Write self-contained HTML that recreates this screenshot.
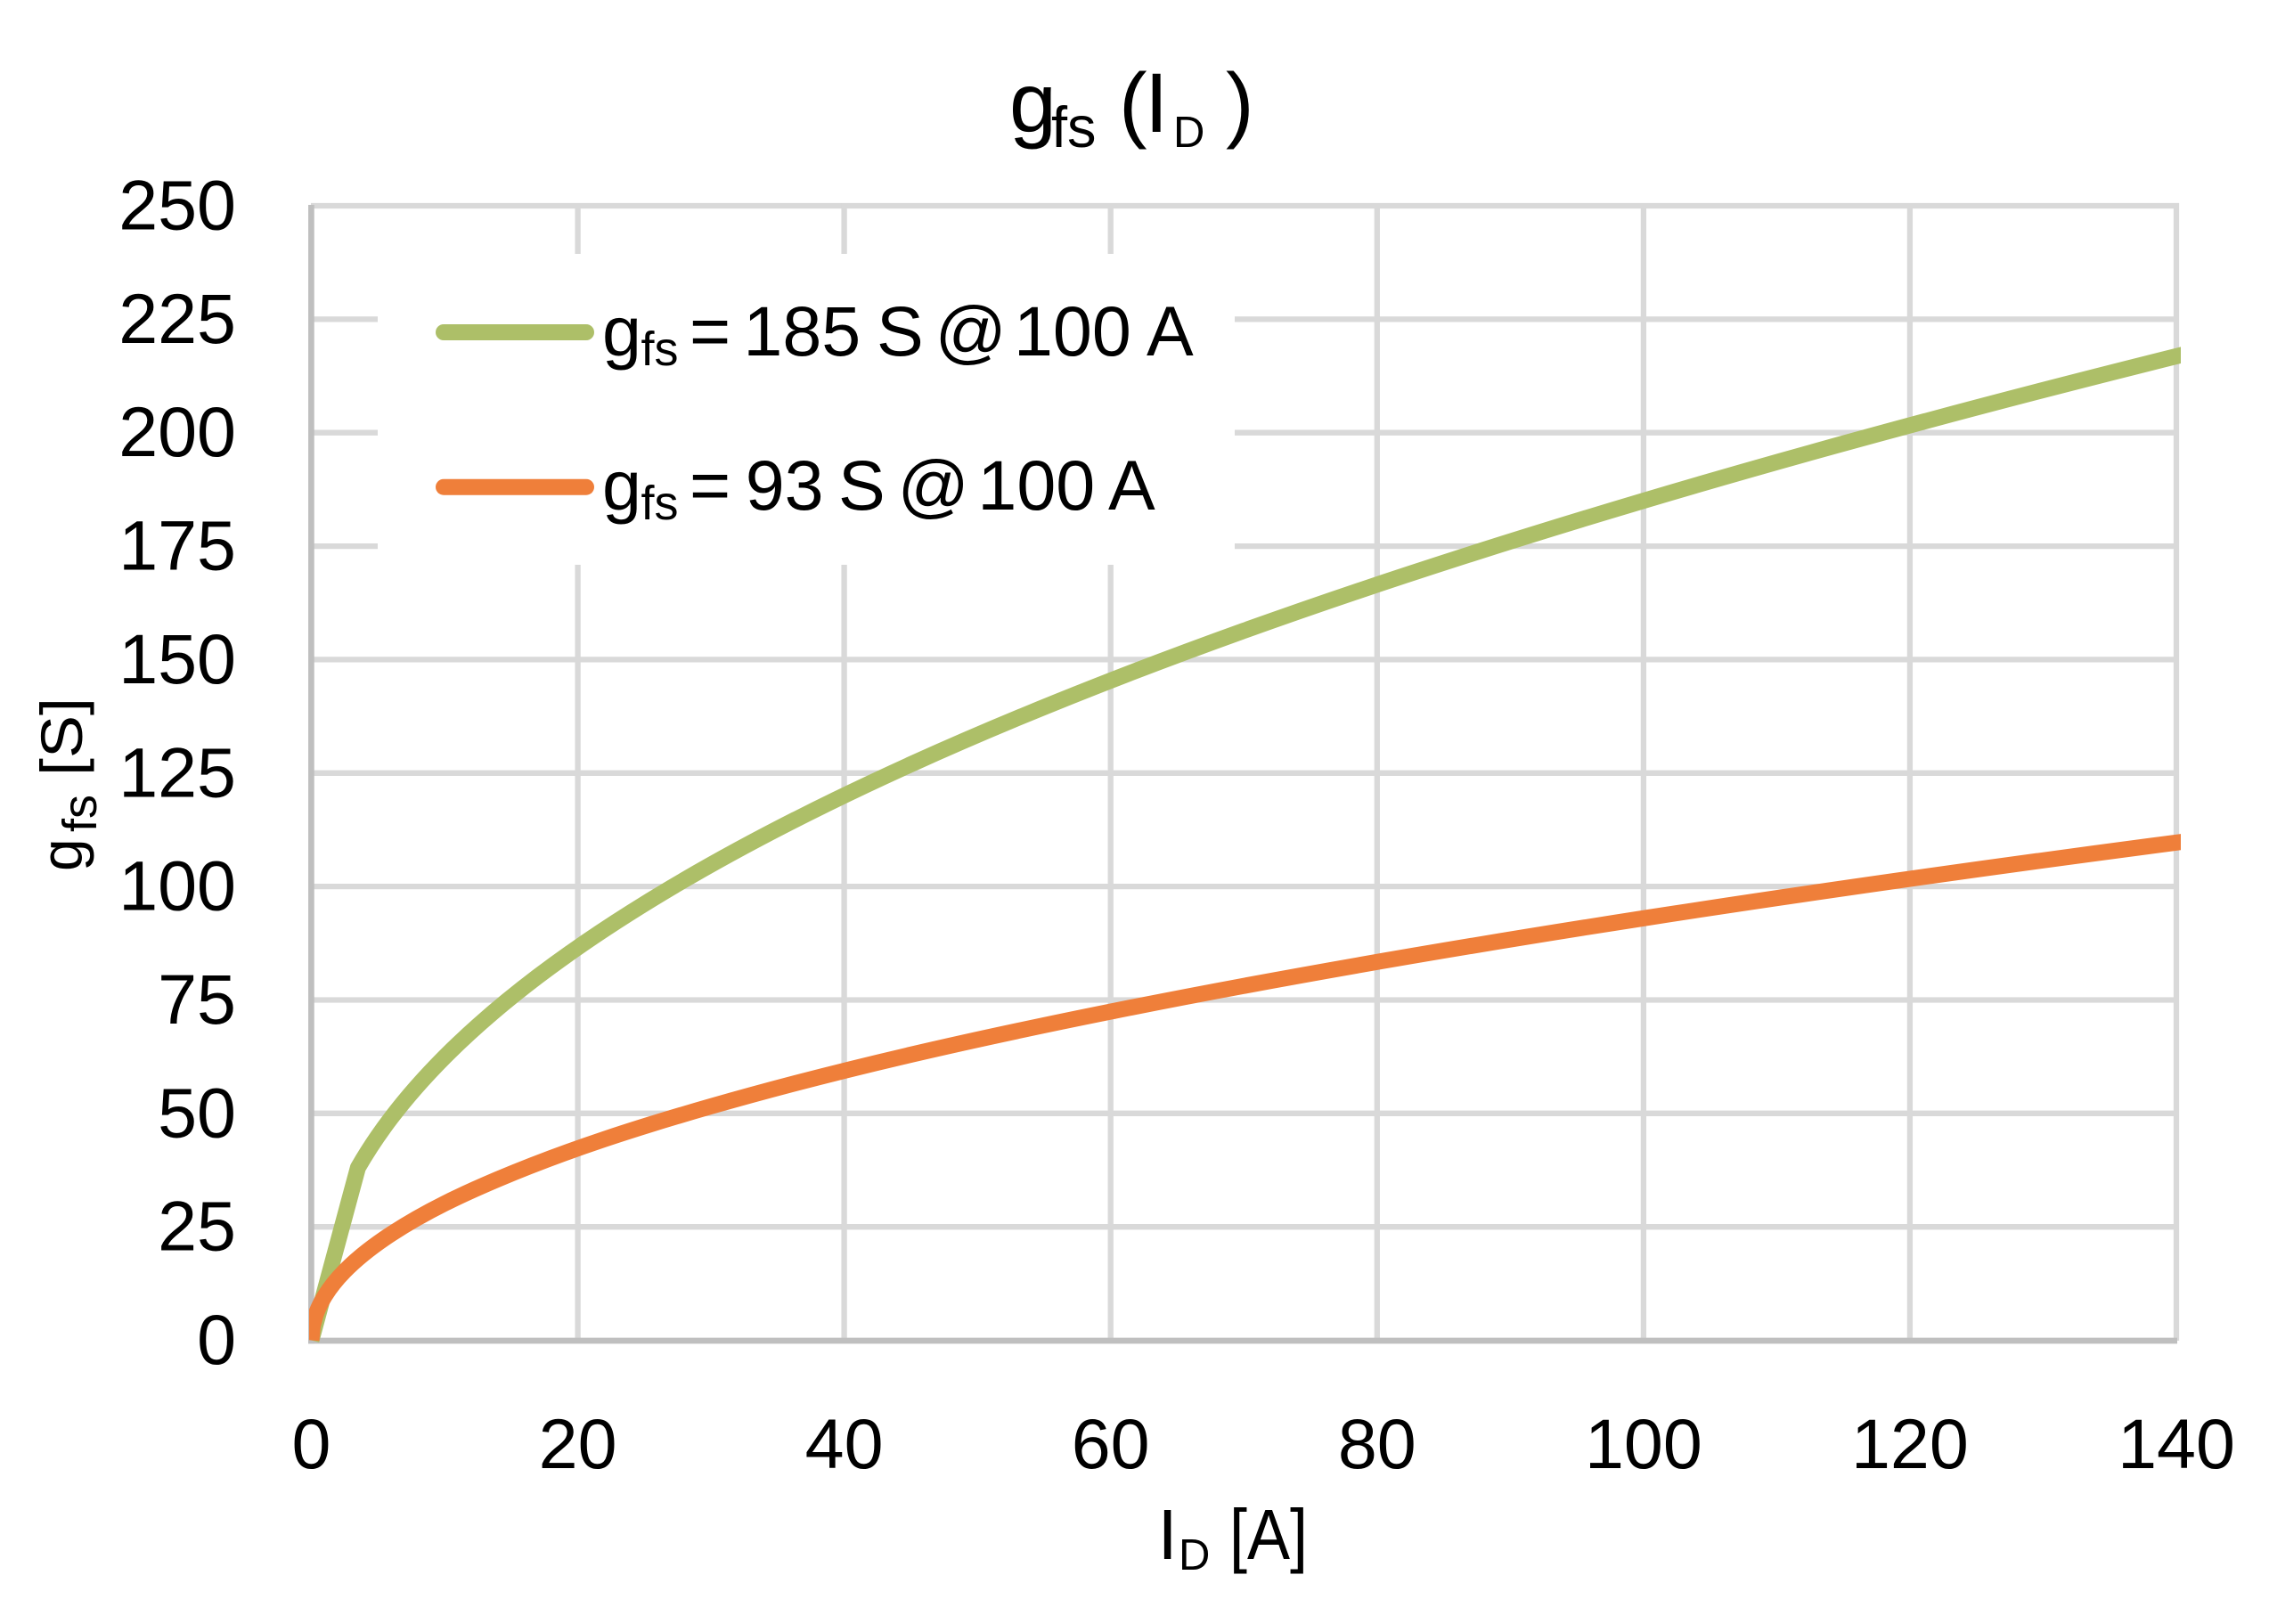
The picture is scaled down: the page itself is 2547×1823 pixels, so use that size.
<!DOCTYPE html>
<html>
<head>
<meta charset="utf-8">
<style>
  html, body { margin: 0; padding: 0; background: #ffffff; }
  svg { display: block; }
  text { font-family: "Liberation Sans", Arial, sans-serif; fill: #000000; }
</style>
</head>
<body>
<svg width="2547" height="1823" viewBox="0 0 2547 1823" xmlns="http://www.w3.org/2000/svg">
  <rect x="0" y="0" width="2547" height="1823" fill="#ffffff"/>

  <!-- Gridlines -->
  <g stroke="#D9D9D9" stroke-width="6.3" fill="none">
    <path d="M349 231H2446 M349 358.4H2446 M349 485.7H2446 M349 613.1H2446 M349 740.4H2446 M349 867.8H2446 M349 995.1H2446 M349 1122.5H2446 M349 1249.8H2446 M349 1377.2H2446"/>
    <path d="M648.6 228V1505 M947.6 228V1505 M1246.7 228V1505 M1545.8 228V1505 M1844.9 228V1505 M2143.9 228V1505 M2443 228V1505"/>
  </g>

  <!-- Legend background -->
  <rect x="424" y="285" width="962" height="349" fill="#ffffff"/>

  <!-- Axes -->
  <g stroke="#BFBFBF" stroke-width="6.7" fill="none">
    <path d="M349.4 230V1508.3"/>
    <path d="M346 1505H2444"/>
  </g>

  <defs>
    <clipPath id="plot">
      <rect x="347" y="220" width="2101" height="1288.5"/>
    </clipPath>
  </defs>

  <!-- Series -->
  <g clip-path="url(#plot)" fill="none" stroke-width="18" stroke-linejoin="round" stroke-linecap="butt">
    <path stroke="#ADBF68" d="M349.5,1504.5 L401.8,1310.8
      C414.3,1289.0 426.7,1271.1 439.2,1254.7
      C459.1,1228.5 479.1,1206.6 499.0,1186.6
      C533.9,1151.6 568.8,1122.6 603.7,1096.1
      C653.6,1058.3 703.5,1026.1 753.3,996.5
      C843.0,943.2 932.7,898.7 1022.4,858.0
      C1147.0,801.5 1271.7,752.8 1396.3,708.0
      C1545.8,654.3 1695.4,606.6 1844.9,562.1
      C2044.3,502.8 2243.7,449.6 2443.1,399.9
      L2460,395.7"/>
    <path stroke="#EF7F3A" d="M349.5,1504.5 L351.0,1488.5 L354.0,1477.0
      C357.5,1466.5 361.0,1460.6 364.5,1454.9
      C372.0,1442.7 379.4,1434.4 386.9,1426.8
      C404.4,1409.0 421.8,1396.5 439.2,1385.1
      C479.1,1359.1 519.0,1340.6 558.9,1323.7
      C638.7,1290.0 718.4,1264.8 798.1,1241.9
      C947.6,1199.0 1097.2,1165.7 1246.7,1135.6
      C1446.1,1095.4 1645.5,1061.8 1844.9,1030.8
      C2044.3,999.9 2243.7,971.9 2443.1,945.8
      L2460,943.6"/>
  </g>

  <!-- Legend lines -->
  <path d="M498 373H658" stroke="#ADBF68" stroke-width="18" stroke-linecap="round" fill="none"/>
  <path d="M498 546.7H658" stroke="#EF7F3A" stroke-width="18" stroke-linecap="round" fill="none"/>

  <!-- Legend text line 1 -->
  <text x="676" y="399" font-size="79">g</text>
  <text x="719.5" y="410" font-size="54">fs</text>
  <text x="774" y="399" font-size="79">=</text>
  <text x="834.4" y="399" font-size="79">185</text>
  <text x="984" y="399" font-size="79">S</text>
  <text x="1049.6" y="399" font-size="79">@</text>
  <text x="1138" y="399" font-size="79">100</text>
  <text x="1287" y="399" font-size="79">A</text>

  <!-- Legend text line 2 -->
  <text x="676" y="572" font-size="79">g</text>
  <text x="719.5" y="583" font-size="54">fs</text>
  <text x="774" y="572" font-size="79">=</text>
  <text x="836.7" y="572" font-size="79">93</text>
  <text x="941" y="572" font-size="79">S</text>
  <text x="1007.6" y="572" font-size="79">@</text>
  <text x="1097.4" y="572" font-size="79">100</text>
  <text x="1244" y="572" font-size="79">A</text>

  <!-- Y tick labels -->
  <g font-size="79" text-anchor="end">
    <text x="265" y="257.5">250</text>
    <text x="265" y="384.9">225</text>
    <text x="265" y="512.2">200</text>
    <text x="265" y="639.6">175</text>
    <text x="265" y="766.9">150</text>
    <text x="265" y="894.3">125</text>
    <text x="265" y="1021.6">100</text>
    <text x="265" y="1149">75</text>
    <text x="265" y="1276.3">50</text>
    <text x="265" y="1403.7">25</text>
    <text x="265" y="1531">0</text>
  </g>

  <!-- X tick labels -->
  <g font-size="79" text-anchor="middle">
    <text x="349.5" y="1648">0</text>
    <text x="648.6" y="1648">20</text>
    <text x="947.6" y="1648">40</text>
    <text x="1246.7" y="1648">60</text>
    <text x="1545.8" y="1648">80</text>
    <text x="1844.9" y="1648">100</text>
    <text x="2143.9" y="1648">120</text>
    <text x="2443" y="1648">140</text>
  </g>

  <!-- Title -->
  <text x="1133" y="148" font-size="95">g</text>
  <text x="1180" y="165" font-size="65">fs</text>
  <text x="1256" y="148" font-size="95">(</text>
  <text x="1285" y="148" font-size="95">I</text>
  <text x="1317" y="165" font-size="49">D</text>
  <text x="1376" y="148" font-size="95">)</text>

  <!-- X axis title -->
  <text x="1299.5" y="1750" font-size="80">I</text>
  <text x="1323" y="1762" font-size="49">D</text>
  <text x="1380" y="1750" font-size="80" textLength="88" lengthAdjust="spacingAndGlyphs">[A]</text>

  <!-- Y axis title -->
  <g transform="translate(92,978) rotate(-90)">
    <text x="0" y="0" font-size="66">g</text>
    <text x="44" y="16" font-size="54">fs</text>
    <text x="107" y="0" font-size="66" textLength="88" lengthAdjust="spacingAndGlyphs">[S]</text>
  </g>
</svg>
</body>
</html>
